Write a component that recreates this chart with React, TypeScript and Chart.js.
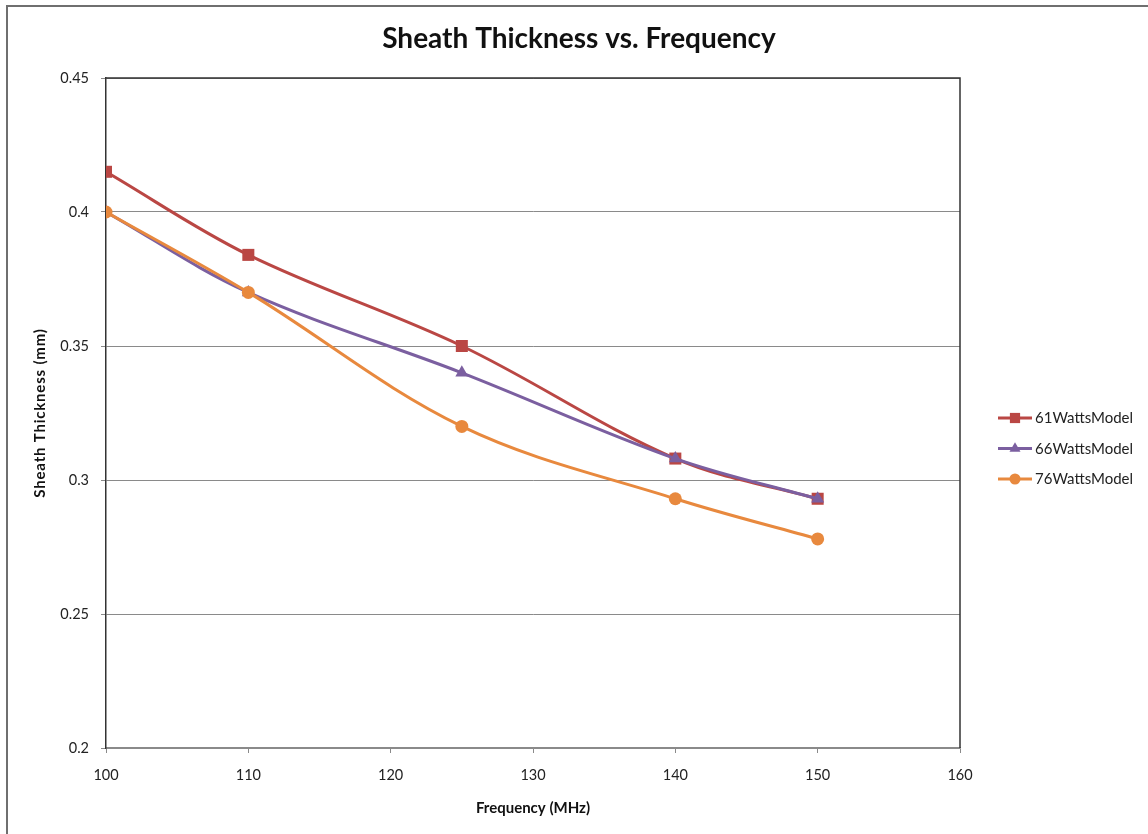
import React, { useEffect, useRef } from "react";
import { Chart, registerables } from "chart.js";

Chart.register(...registerables);

const frequencies = [100, 110, 125, 140, 150];
const series61 = [0.415, 0.384, 0.35, 0.308, 0.293];
const series66 = [0.4, 0.37, 0.34, 0.308, 0.293];
const series76 = [0.4, 0.37, 0.32, 0.293, 0.278];
const seriesNames = ["61WattsModel", "66WattsModel", "76WattsModel"];
const seriesColors = ["#BA4744", "#7B5FA0", "#E8893E"];
const seriesShapes = ["rect", "triangle", "circle"];
const seriesRadius = [8.5, 7.5, 6.5];
const yTicks = [0.2, 0.25, 0.3, 0.35, 0.4, 0.45];
const titleText = "Sheath Thickness vs. Frequency";
const xTitle = "Frequency (MHz)";
const yTitle = "Sheath Thickness (mm)";

const FONT = "Lato, 'Open Sans', sans-serif";

function drawMarker(ctx: CanvasRenderingContext2D, shape: string, x: number, y: number, r: number, color: string) {
  ctx.save();
  ctx.fillStyle = color;
  ctx.beginPath();
  if (shape === "rect") {
    const s = Math.SQRT1_2 * r;
    ctx.rect(x - s, y - s, 2 * s, 2 * s);
  } else if (shape === "triangle") {
    ctx.moveTo(x, y - r);
    ctx.lineTo(x + r * 0.866, y + r * 0.5);
    ctx.lineTo(x - r * 0.866, y + r * 0.5);
    ctx.closePath();
  } else {
    ctx.arc(x, y, r, 0, Math.PI * 2);
  }
  ctx.fill();
  ctx.restore();
}

const decorPlugin = {
  id: "decor",
  beforeDraw(chart: any) {
    const ctx = chart.ctx as CanvasRenderingContext2D;
    ctx.save();
    ctx.fillStyle = "#ffffff";
    ctx.fillRect(0, 0, chart.width, chart.height);
    ctx.restore();
  },
  afterDraw(chart: any) {
    const ctx = chart.ctx as CanvasRenderingContext2D;
    const { left, right, top, bottom } = chart.chartArea;
    ctx.save();
    // outer frame
    ctx.strokeStyle = "#6f6f6f";
    ctx.lineWidth = 2;
    ctx.beginPath();
    ctx.moveTo(7, chart.height + 2);
    ctx.lineTo(7, 6);
    ctx.lineTo(chart.width + 2, 6);
    ctx.stroke();
    // plot border top / right
    ctx.strokeStyle = "#333333";
    ctx.lineWidth = 1.5;
    ctx.beginPath();
    ctx.moveTo(left, top);
    ctx.lineTo(right, top);
    ctx.lineTo(right, bottom);
    ctx.stroke();
    // title
    ctx.fillStyle = "#111111";
    ctx.textAlign = "center";
    ctx.textBaseline = "middle";
    ctx.font = `bold 28px ${FONT}`;
    ctx.fillText(titleText, 579, 39);
    // axis titles
    ctx.font = `bold 15px ${FONT}`;
    ctx.fillText(xTitle, (left + right) / 2, 808);
    ctx.save();
    ctx.translate(40, (top + bottom) / 2);
    ctx.rotate(-Math.PI / 2);
    (ctx as any).letterSpacing = "0.8px";
    ctx.fillText(yTitle, 0, 0);
    ctx.restore();
    // legend
    ctx.font = `15px ${FONT}`;
    ctx.textAlign = "left";
    seriesNames.forEach((name, i) => {
      const y = 418 + i * 30.5;
      ctx.strokeStyle = seriesColors[i];
      ctx.lineWidth = 3;
      ctx.beginPath();
      ctx.moveTo(998, y);
      ctx.lineTo(1032, y);
      ctx.stroke();
      drawMarker(ctx, seriesShapes[i], 1015, y, seriesRadius[i] * 0.85, seriesColors[i]);
      ctx.fillStyle = "#222222";
      ctx.fillText(name, 1035, y + 0.5);
    });
    ctx.restore();
  },
};

export default function App() {
  const canvasRef = useRef<HTMLCanvasElement | null>(null);

  useEffect(() => {
    if (!canvasRef.current) return;
    const allSeries = [series61, series66, series76];
    const chart = new Chart(canvasRef.current, {
      type: "line",
      data: {
        datasets: allSeries.map((vals, i) => ({
          label: seriesNames[i],
          data: frequencies.map((f, j) => ({ x: f, y: vals[j] })),
          borderColor: seriesColors[i],
          backgroundColor: seriesColors[i],
          borderWidth: 3,
          pointStyle: seriesShapes[i] as any,
          pointRadius: seriesRadius[i],
          pointBorderWidth: 0,
          tension: 0.35,
          fill: false,
          order: 3 - i,
        })),
      },
      options: {
        animation: false,
        responsive: false,
        devicePixelRatio: 1,
        layout: { padding: { left: 0, top: 78, right: 188, bottom: 0 } },
        plugins: { legend: { display: false }, tooltip: { enabled: false }, title: { display: false } },
        scales: {
          x: {
            type: "linear",
            min: 100,
            max: 160,
            afterFit: (s: any) => {
              s.height = 86;
            },
            ticks: { stepSize: 10, color: "#222", font: { family: FONT, size: 14.5 }, padding: 14, maxRotation: 0 },
            grid: { drawOnChartArea: false, drawTicks: true, tickLength: 5, color: "#8a8a8a", lineWidth: 1 },
            border: { color: "#8a8a8a", width: 1.5 },
          },
          y: {
            type: "linear",
            min: 0.2,
            max: 0.45,
            afterFit: (s: any) => {
              s.width = 106;
            },
            afterBuildTicks: (s: any) => {
              s.ticks = yTicks.map((v) => ({ value: v }));
            },
            ticks: {
              color: "#222",
              font: { family: FONT, size: 14.5 },
              padding: 12,
              callback: (v: any) => String(Number(Number(v).toFixed(2))),
            },
            grid: { color: "#8a8a8a", lineWidth: 1, drawTicks: true, tickLength: 5 },
            border: { color: "#333", width: 1.5 },
          },
        },
      },
      plugins: [decorPlugin],
    });
    return () => chart.destroy();
  }, []);

  return (
    <div style={{ position: "fixed", left: 0, top: 0, width: 1148, height: 834, background: "#fff" }}>
      <canvas ref={canvasRef} width={1148} height={834} style={{ display: "block" }} />
    </div>
  );
}
